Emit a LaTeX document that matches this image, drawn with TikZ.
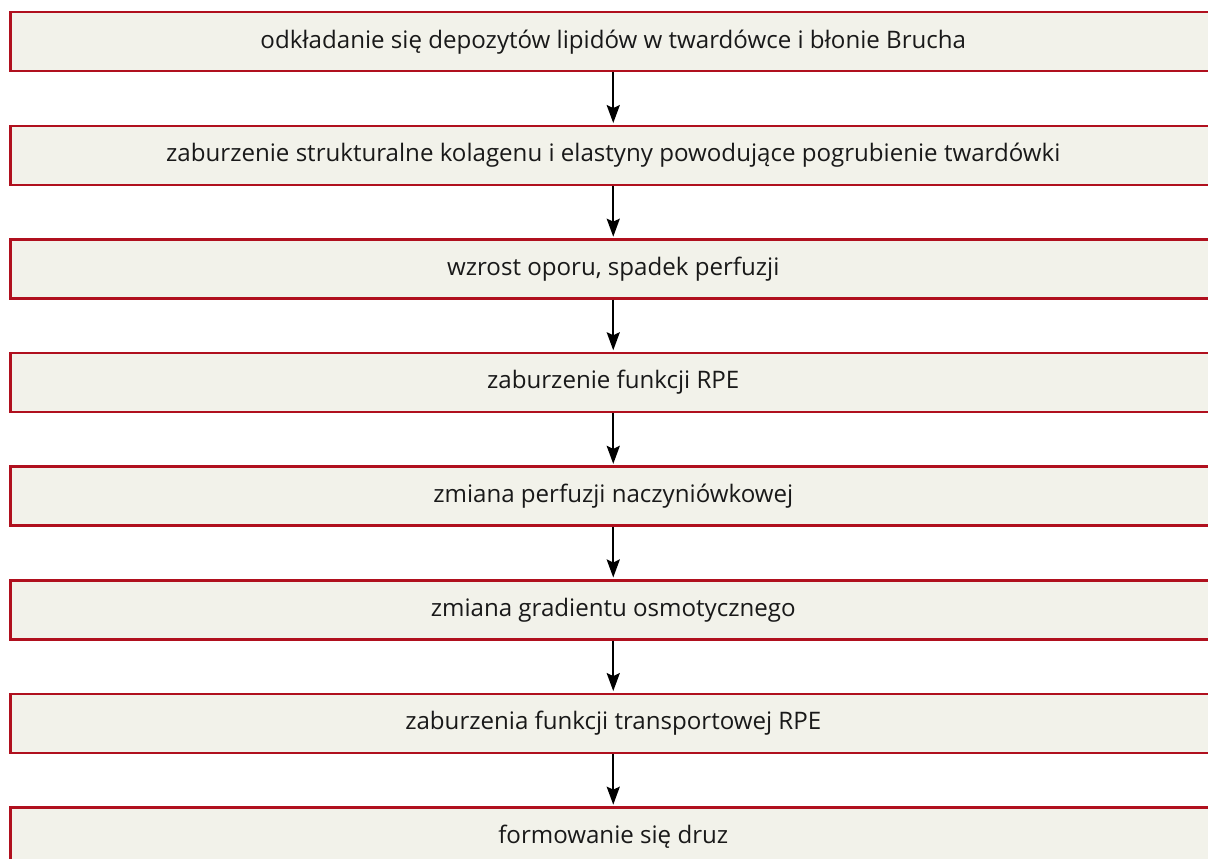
\documentclass[tikz,border=0pt]{standalone}
\usepackage{fontspec}
\setmainfont{Open Sans}
\usetikzlibrary{arrows.meta}
\definecolor{boxred}{HTML}{B0101E}
\definecolor{boxfill}{HTML}{F2F2EA}
\begin{document}
\begin{tikzpicture}[x=1pt,y=-1pt,
  stepbox/.style={draw=boxred, fill=boxfill, line width=2.5pt, rectangle,
    minimum width=1206pt, minimum height=59pt, inner sep=0pt, anchor=north west,
    font=\fontsize{24.1}{28}\selectfont, text=black!90},
  flowarrow/.style={line width=2.4pt, -{Stealth[length=18pt,width=13pt,inset=3pt]}, shorten >=1.5pt}]
\useasboundingbox (0,0) rectangle (1208,859);
\clip (0,0) rectangle (1208,859);
\node[stepbox] (b1) at (9,11) {odkładanie się depozytów lipidów w twardówce i błonie Brucha};
\node[stepbox] (b2) at (9,124.6) {zaburzenie strukturalne kolagenu i elastyny powodujące pogrubienie twardówki};
\node[stepbox] (b3) at (9,238.2) {wzrost oporu, spadek perfuzji};
\node[stepbox] (b4) at (9,351.8) {zaburzenie funkcji RPE};
\node[stepbox] (b5) at (9,465.4) {zmiana perfuzji naczyniówkowej};
\node[stepbox] (b6) at (9,579) {zmiana gradientu osmotycznego};
\node[stepbox] (b7) at (9,692.6) {zaburzenia funkcji transportowej RPE};
\node[stepbox] (b8) at (9,806.2) {formowanie się druz};
\foreach \a/\b in {b1/b2,b2/b3,b3/b4,b4/b5,b5/b6,b6/b7,b7/b8}
  \draw[flowarrow] (\a.south) -- (\b.north);
\end{tikzpicture}
\end{document}
